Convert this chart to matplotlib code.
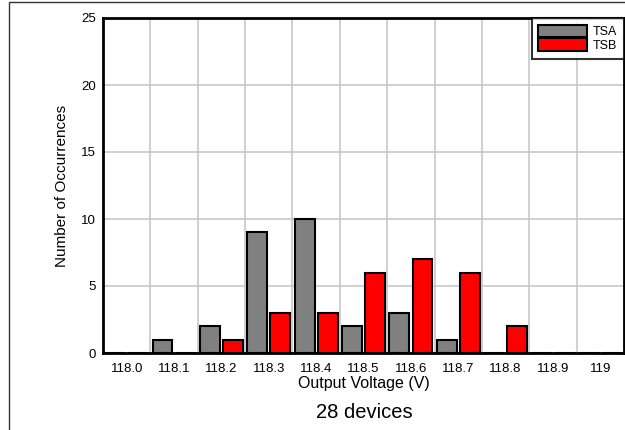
import numpy as np
import matplotlib
matplotlib.use("Agg")
import matplotlib.pyplot as plt
from matplotlib.patches import Rectangle

plt.rcParams['font.family'] = ['Liberation Sans', 'DejaVu Sans']

# data
voltages = ["118.0", "118.1", "118.2", "118.3", "118.4", "118.5",
            "118.6", "118.7", "118.8", "118.9", "119"]
tsa = [0, 1, 2, 9, 10, 2, 3, 1, 0, 0, 0]
tsb = [0, 0, 1, 3, 3, 6, 7, 6, 2, 0, 0]

fig = plt.figure(figsize=(6.25, 4.3), dpi=100)
# outer frame of the original figure (cut off at right and bottom)
fig.patches.append(Rectangle((8.5/625, -0.1), 1.2, 1.1 - 2.5/430, transform=fig.transFigure,
                             fill=False, edgecolor="#333333", lw=1.0))

ax = fig.add_axes([103/625, 1-353/430, 1-103/625-0.0015, (353-18)/430])

x = np.arange(len(voltages))
w = 0.42
ax.bar(x - 0.245, tsa, w, color="#808080", edgecolor="black", lw=1.5, label="TSA", zorder=3)
ax.bar(x + 0.245, tsb, w, color="#ff0000", edgecolor="black", lw=1.5, label="TSB", zorder=3)

ax.set_xlim(-0.5, len(voltages) - 0.5)
ax.set_ylim(0, 25)
ax.set_xticks(x)
ax.set_xticklabels(voltages)
ax.set_xticks(np.arange(len(voltages) + 1) - 0.5, minor=True)
ax.set_yticks([0, 5, 10, 15, 20, 25])
ax.tick_params(axis="both", which="both", length=0, labelsize=9.5)
ax.tick_params(axis="x", pad=7)
ax.tick_params(axis="y", pad=5)
ax.grid(True, which="minor", axis="x", color="#c8c8c8", lw=1.2, zorder=0)
ax.grid(True, which="major", axis="y", color="#c8c8c8", lw=1.2, zorder=0)
ax.set_axisbelow(True)
for s in ax.spines.values():
    s.set_linewidth(2)
    s.set_zorder(4)

ax.set_xlabel("Output Voltage (V)", fontsize=11.5, labelpad=1)
ax.set_ylabel("Number of Occurrences", fontsize=11, labelpad=9)

leg = ax.legend(loc="upper right", fontsize=9, frameon=True, fancybox=False,
                handlelength=3.85, handleheight=1.15, labelspacing=0, borderpad=0.55,
                handletextpad=0.5, borderaxespad=0)
leg.get_frame().set_edgecolor("black")
leg.get_frame().set_linewidth(1.5)

fig.text(364/625, 1 - 413/430, "28 devices", ha="center", va="center", fontsize=14.5)

fig.savefig("out.png", dpi=100)
